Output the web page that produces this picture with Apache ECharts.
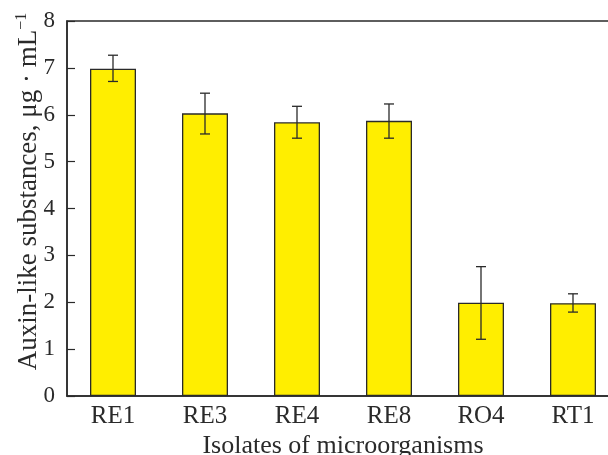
<!DOCTYPE html>
<html>
<head>
<meta charset="utf-8">
<script src="https://cdn.jsdelivr.net/npm/echarts@6/dist/echarts.min.js"></script>
<style>html,body{margin:0;padding:0;background:#fff}#c{width:608px;height:455px}</style>
</head>
<body>
<div id="c"></div>
<script>
const categories = ['RE1', 'RE3', 'RE4', 'RE8', 'RO4', 'RT1'];
const values = [6.98, 6.03, 5.84, 5.87, 1.99, 1.98];
const errLow = [6.71, 5.59, 5.50, 5.50, 1.21, 1.79];
const errHigh = [7.27, 6.46, 6.18, 6.23, 2.76, 2.18];
const yTicks = [0, 1, 2, 3, 4, 5, 6, 7, 8];

const FONT = '"Liberation Serif", "DejaVu Serif", serif';
const INK = '#2a2a2a';

const chart = echarts.init(document.getElementById('c'), null, {renderer: 'canvas'});
chart.setOption({
  animation: false,
  grid: {left: 67, top: 21, width: 552, height: 375, show: true, borderColor: INK, borderWidth: 1.5, outerBoundsMode: 'none'},
  xAxis: {
    type: 'category',
    data: categories,
    name: 'Isolates of microorganisms',
    nameLocation: 'middle',
    nameGap: 37,
    nameMoveOverlap: false,
    nameTextStyle: {fontFamily: FONT, fontSize: 26, color: INK},
    axisLine: {lineStyle: {color: INK, width: 1.5}},
    axisTick: {inside: true, length: 8, lineStyle: {color: INK, width: 1.2}},
    axisLabel: {fontFamily: FONT, fontSize: 25, color: INK, margin: 8},
    splitLine: {show: false}
  },
  yAxis: {
    type: 'value',
    min: 0, max: 8, interval: 1,
    name: 'Auxin-like substances, μg · mL{sup|−1}',
    nameLocation: 'middle',
    nameGap: 23,
    nameMoveOverlap: false,
    nameTextStyle: {fontFamily: FONT, fontSize: 27, color: INK, padding: [0, 0, 0, 34],
      rich: {sup: {fontFamily: FONT, fontSize: 16, color: INK, padding: [0, 0, 14, 0]}}},
    axisLine: {show: true, lineStyle: {color: INK, width: 1.5}},
    axisTick: {show: true, inside: true, length: 8, lineStyle: {color: INK, width: 1.2}},
    axisLabel: {fontFamily: FONT, fontSize: 23, color: INK, margin: 12,
      formatter: v => yTicks.includes(v) ? String(v) : ''},
    splitLine: {show: false}
  },
  series: [
    {
      type: 'bar',
      data: values,
      barWidth: '50%',
      itemStyle: {color: '#FFEE00', borderColor: INK, borderWidth: 1.3},
      z: 2
    },
    {
      type: 'custom',
      z: 5,
      data: categories.map((c, i) => [i, errLow[i], errHigh[i]]),
      renderItem: function (params, api) {
        const x = api.value(0);
        const lo = api.coord([x, api.value(1)]);
        const hi = api.coord([x, api.value(2)]);
        const hw = 5;
        const st = {stroke: INK, lineWidth: 1.3};
        return {
          type: 'group',
          children: [
            {type: 'line', shape: {x1: lo[0], y1: lo[1], x2: hi[0], y2: hi[1]}, style: st},
            {type: 'line', shape: {x1: hi[0] - hw, y1: hi[1], x2: hi[0] + hw, y2: hi[1]}, style: st},
            {type: 'line', shape: {x1: lo[0] - hw, y1: lo[1], x2: lo[0] + hw, y2: lo[1]}, style: st}
          ]
        };
      }
    }
  ]
});
</script>
</body>
</html>
